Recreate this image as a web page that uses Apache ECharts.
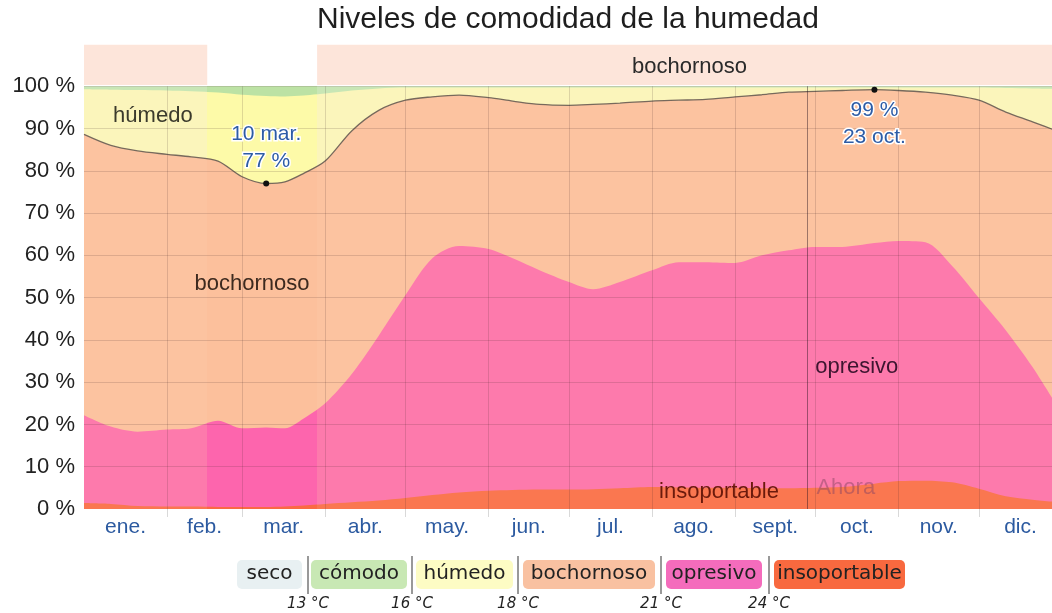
<!DOCTYPE html>
<html><head><meta charset="utf-8">
<script src="https://cdn.jsdelivr.net/npm/echarts@6/dist/echarts.min.js"></script>
<style>html,body{margin:0;padding:0;background:#fff}#c{width:1052px;height:613px}</style>
</head><body><div id="c"></div><script>
// ---------------- data ----------------
const monthNames = ['ene.','feb.','mar.','abr.','may.','jun.','jul.','ago.','sept.','oct.','nov.','dic.'];
const monthStarts = [0,31,59,90,120,151,181,212,243,273,304,334,365];
const yTicks = [0,10,20,30,40,50,60,70,80,90,100];
const days = [0,10,20,31,40,50,59,68,75,82,90,100,110,120,130,140,151,160,170,181,190,200,212,222,232,243,253,263,273,283,295,304,314,324,334,344,354,364];
// cumulative upper boundary of each band (%)
const insoportableTop = [1.4,1.2,0.7,0.6,0.6,0.5,0.5,0.5,0.6,0.8,1.2,1.6,2.0,2.6,3.3,3.9,4.3,4.5,4.6,4.6,4.7,4.9,5.2,5.1,5.0,5.0,4.9,4.9,5.0,5.2,6.0,6.6,6.7,6.3,4.8,3.0,2.2,1.6];
const opresivoTop = [22.2,19.5,18.3,18.8,19.1,20.9,19.1,19.3,19.1,21.4,25.0,32.0,41.0,50.6,59.3,62.2,61.5,59.3,56.5,53.7,52.0,53.7,56.5,58.4,58.4,58.2,60.0,61.2,62.0,62.0,62.9,63.4,63.1,57.5,49.9,42.3,33.6,23.5];
const bochornosoTop = [88.6,86.0,84.7,83.9,83.3,82.3,78.6,77.0,77.4,79.4,82.3,89.5,94.3,96.7,97.5,97.9,97.3,96.5,95.7,95.5,95.7,96.0,96.5,96.7,96.9,97.5,98.0,98.6,98.8,99.0,99.2,99.0,98.6,97.9,96.7,93.9,91.6,89.2];
const humedoTop = [99.3,99.2,99.1,99.0,98.8,98.5,98.0,97.7,97.6,97.8,98.3,99.0,99.5,99.7,99.7,99.7,99.7,99.7,99.7,99.7,99.7,99.7,99.7,99.7,99.7,99.7,99.7,99.7,99.7,99.7,99.7,99.7,99.7,99.7,99.7,99.6,99.5,99.4];
const comodoTop = [100,100,100,100,100,100,100,100,100,100,100,100,100,100,100,100,100,100,100,100,100,100,100,100,100,100,100,100,100,100,100,100,100,100,100,100,100,100];
const highlightRange = [46, 87];
const stripRanges = [[0, 46, ''], [87, 365, 'bochornoso']];
const nowDay = 270;
const legendNames = ['seco','cómodo','húmedo','bochornoso','opresivo','insoportable'];
const legendTemps = ['13 °C','16 °C','18 °C','21 °C','24 °C'];
const areaLabels = [['húmedo',25.7,93.1],['bochornoso',62.7,53.2],['opresivo',288.4,33.6],['insoportable',237,4.0],['Ahora',284.3,5.0]];

// ---------------- styles ----------------
const FONT = 'Liberation Sans';
const NORMAL = {comodo:'#c8e6b5', humedo:'#fbf5bb', bochornoso:'#fcc3a0', opresivo:'#fd7aac', insoportable:'#fa7750'};
const VIVID  = {comodo:'#bce2a4', humedo:'#fdfaa8', bochornoso:'#fcc09c', opresivo:'#fd65ad', insoportable:'#fa6a44'};
const legendColors = ['#e8f0f2','#c8e8b4','#fdfcc4','#f9c1a1','#f46cbc','#f8693f'];
const labelColors = ['#3b3a2c','#3d2a1f','#3e1530','#6b1a0c','rgba(140,70,100,0.5)'];

// layout of main grid
const G = {left:84, top:44, bottom:104, width:978};
const pxPerDay = G.width/365;
// highlight sub-grid snapped to whole pixels, its axis range derived from the main scale
const hlLeft = Math.round(G.left + highlightRange[0]*pxPerDay);
const hlRight = Math.round(G.left + highlightRange[1]*pxPerDay);
const hlMin = (hlLeft - G.left)/pxPerDay, hlMax = (hlRight - G.left)/pxPerDay;

const pairs = arr => days.map((d,i)=>[d, arr[i]]);
function areaSeries(name, arr, color, gi) {
  return {
    name, type:'line', data: pairs(arr), smooth:0.3, showSymbol:false, symbol:'none',
    xAxisIndex:gi, yAxisIndex:gi, clip:true,
    lineStyle:{width:0}, areaStyle:{color, opacity:1, origin:'start'}, silent:true, z:2+gi
  };
}
function layerSet(P, gi){
  return [
    areaSeries('cómodo', comodoTop, P.comodo, gi),
    areaSeries('húmedo', humedoTop, P.humedo, gi),
    areaSeries('bochornoso', bochornosoTop, P.bochornoso, gi),
    areaSeries('opresivo', opresivoTop, P.opresivo, gi),
    areaSeries('insoportable', insoportableTop, P.insoportable, gi)
  ];
}
// boundary line between húmedo and bochornoso, drawn above both grids
const boundaryLine = { name:'límite', type:'line', data: pairs(bochornosoTop), smooth:0.3, showSymbol:false, symbol:'none',
  xAxisIndex:0, yAxisIndex:0, lineStyle:{width:1.3, color:'#77695c'}, silent:true, z:5 };

function dayLabel(d){
  let m=0; while (m<11 && d>=monthStarts[m+1]) m++;
  return (d-monthStarts[m]+1)+' '+monthNames[m];
}
let minI=0, maxI=0;
bochornosoTop.forEach((v,i)=>{ if(v<bochornosoTop[minI]) minI=i; if(v>bochornosoTop[maxI]) maxI=i; });

const monthMids = monthStarts.slice(0,12).map((s,i)=>(s+monthStarts[i+1])/2);
const gridLineColor = 'rgba(60,40,40,0.16)';

const markLines = [];
monthStarts.slice(1,12).forEach(d=>markLines.push([{coord:[d,0]},{coord:[d,100]}]));
yTicks.slice(1).forEach(v=>markLines.push([{coord:[0,v]},{coord:[365,v]}]));
markLines.push([{coord:[nowDay,0],lineStyle:{color:'rgba(40,20,30,0.45)',width:1}},{coord:[nowDay,100]}]);

const areas = stripRanges.map(r=>[{xAxis:r[0],yAxis:100.3,name:r[2],itemStyle:{color:'#fde5da'}},{xAxis:r[1],yAxis:109.8}]);

const annotStyle = {color:'#2d5ca6', fontSize:21, fontFamily:FONT, lineHeight:27, textBorderColor:'#fff', textBorderWidth:3};

const series = layerSet(NORMAL,0).concat(layerSet(VIVID,1)).concat([
  boundaryLine,
  { name:'marks', type:'line', data:[], z:11, silent:true,
    markLine:{ silent:true, z:13, symbol:['none','none'], label:{show:false}, animation:false,
      lineStyle:{color:gridLineColor, width:1, type:'solid'}, data: markLines },
    markArea:{ silent:true, z:12,
      label:{show:true, position:'inside', color:'#2a2a2a', fontSize:22, fontFamily:FONT, offset:[0,2]},
      data: areas }
  },
  { name:'annot', type:'line', data:[], z:20, silent:true,
    markPoint:{ silent:true, animation:false, z:20,
      data: [
        {coord:[days[minI], bochornosoTop[minI]], symbol:'circle', symbolSize:6, itemStyle:{color:'#111'},
          label:{show:true, position:'top', distance:6, formatter: dayLabel(days[minI])+'\n'+Math.round(bochornosoTop[minI])+' %', ...annotStyle}},
        {coord:[days[maxI], bochornosoTop[maxI]], symbol:'circle', symbolSize:6, itemStyle:{color:'#111'},
          label:{show:true, position:'bottom', distance:4, formatter: Math.round(bochornosoTop[maxI])+' %\n'+dayLabel(days[maxI]), ...annotStyle}}
      ].concat(areaLabels.map((a,i)=>({coord:[a[1],a[2]], symbol:'circle', symbolSize:0,
          label:{show:true, position:'inside', formatter:a[0], color:labelColors[i], fontSize:22, fontFamily:FONT}})))
    }
  }
]);

// legend graphics
const boxes = [[237,65],[311,96],[416,97],[523,132],[666,96],[774,131]];
const seps = [308,412,518,661,769];
const graphic = [{type:'text', x:568, y:20, style:{text:'Niveles de comodidad de la humedad', align:'center', verticalAlign:'middle', font:'30px "'+FONT+'"', fill:'#1e1e1e'}}];
legendNames.forEach((n,i)=>{
  const [x,w]=boxes[i];
  graphic.push({type:'rect', shape:{x, y:560, width:w, height:29, r:5}, style:{fill:legendColors[i]}});
  graphic.push({type:'text', x:x+w/2, y:574, style:{text:n, align:'center', verticalAlign:'middle', font:'20px "DejaVu Sans"', fill:'#222'}});
});
legendTemps.forEach((t,i)=>{
  graphic.push({type:'line', shape:{x1:seps[i], y1:556, x2:seps[i], y2:594}, style:{stroke:'#555', lineWidth:1.2}});
  graphic.push({type:'text', x:seps[i], y:604, style:{text:t, align:'center', verticalAlign:'middle', font:'italic 15px "DejaVu Sans"', fill:'#222'}});
});

const chart = echarts.init(document.getElementById('c'), null, {renderer:'canvas'});
chart.setOption({
  animation:false,
  textStyle:{fontFamily:FONT},
  grid:[
    {left:G.left, width:G.width, top:G.top, bottom:G.bottom, outerBoundsMode:'none', containLabel:false},
    {left:hlLeft, width:hlRight-hlLeft, top:G.top, bottom:G.bottom, outerBoundsMode:'none', containLabel:false}
  ],
  xAxis:[
    {type:'value', gridIndex:0, min:0, max:365, axisLine:{show:false}, splitLine:{show:false},
      axisTick:{show:true, customValues: monthStarts.slice(1,12), length:8, lineStyle:{color:'rgba(0,0,0,0.15)'}},
      axisLabel:{customValues: monthMids, formatter: v=>monthNames[monthMids.indexOf(v)], color:'#2c5aa0', fontSize:21, margin:8, fontFamily:FONT}},
    {type:'value', gridIndex:1, min:hlMin, max:hlMax, show:false}
  ],
  yAxis:[
    {type:'value', gridIndex:0, min:0, max:110, interval:10, axisLine:{show:false}, axisTick:{show:false}, splitLine:{show:false},
      axisLabel:{formatter: v => v<=100 ? v+' %' : '', color:'#222', fontSize:22, margin:9, fontFamily:FONT}},
    {type:'value', gridIndex:1, min:0, max:110, show:false}
  ],
  graphic,
  series
});
</script></body></html>
